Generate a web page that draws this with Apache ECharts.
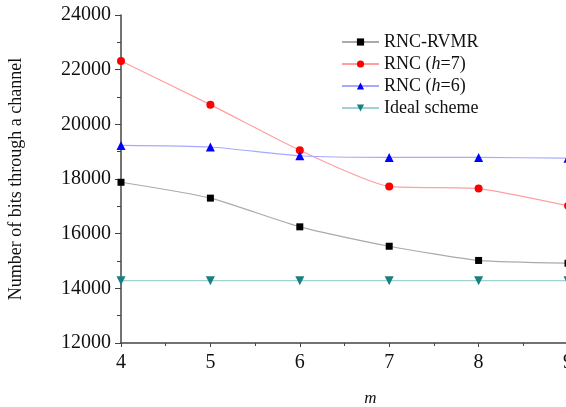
<!DOCTYPE html>
<html>
<head>
<meta charset="utf-8">
<script src="https://cdn.jsdelivr.net/npm/echarts@6/dist/echarts.min.js"></script>
<style>html,body{margin:0;padding:0;background:#fff;}#c{width:566px;height:407px;}</style>
</head>
<body>
<div id="c"></div>
<script>
const mValues = [4, 5, 6, 7, 8, 9];
const rncRvmr = [17880, 17300, 16250, 15540, 15020, 14920];
const rncH7 = [22320, 20720, 19050, 17730, 17650, 17020];
const rncH6 = [19230, 19170, 18850, 18790, 18790, 18760];
const ideal = [14280, 14280, 14280, 14280, 14280, 14280];
const seriesNames = ['RNC-RVMR', 'RNC (h=7)', 'RNC (h=6)', 'Ideal scheme'];
const yTicks = [12000, 14000, 16000, 18000, 20000, 22000, 24000];

const FONT = "'Liberation Serif', 'Times New Roman', serif";
function pairs(ys) { return mValues.map((x, i) => [x, ys[i]]); }

const chart = echarts.init(document.getElementById('c'), null, {renderer: 'canvas'});
const axisLine = {show: true, lineStyle: {color: '#444', width: 1.5}};
chart.setOption({
  animation: false,
  backgroundColor: '#fff',
  grid: {left: 121, top: 15, bottom: 64, right: -2, containLabel: false, outerBoundsMode: 'none'},
  legend: {
    left: 336, top: 28, orient: 'vertical',
    itemWidth: 37, itemHeight: 9, itemGap: 4,
    data: seriesNames,
    formatter: function (n) {
      if (n === 'RNC (h=7)') return 'RNC ({i|h}=7)';
      if (n === 'RNC (h=6)') return 'RNC ({i|h}=6)';
      return n;
    },
    textStyle: {fontFamily: FONT, fontSize: 18, color: '#111',
      rich: {i: {fontFamily: FONT, fontSize: 18, fontStyle: 'italic', color: '#111'}}}
  },
  xAxis: {
    type: 'value', min: 4, max: 9, interval: 1,
    name: 'm', nameLocation: 'middle', nameGap: 47,
    nameTextStyle: {fontFamily: FONT, fontSize: 17, fontStyle: 'italic', color: '#111', padding: [0, 0, 0, 52]},
    axisLine: axisLine,
    axisTick: {show: true, inside: false, length: 4, lineStyle: {color: '#444'}},
    minorTick: {show: true, splitNumber: 2, length: 3, lineStyle: {color: '#444'}},
    splitLine: {show: false},
    axisLabel: {fontFamily: FONT, fontSize: 20, color: '#111', margin: 10,
      formatter: function (v) { return String(v); }}
  },
  yAxis: {
    type: 'value', min: yTicks[0], max: yTicks[yTicks.length - 1], interval: 2000,
    name: 'Number of bits through a channel', nameLocation: 'middle', nameGap: 96,
    nameTextStyle: {fontFamily: FONT, fontSize: 18, color: '#111'},
    axisLine: axisLine,
    axisTick: {show: true, inside: false, length: 6, lineStyle: {color: '#444'}},
    minorTick: {show: true, splitNumber: 2, length: 4, lineStyle: {color: '#444'}},
    splitLine: {show: false},
    axisLabel: {fontFamily: FONT, fontSize: 20, color: '#111', margin: 10,
      formatter: function (v) { return String(v); }}
  },
  series: [
    {name: seriesNames[0], type: 'line', data: pairs(rncRvmr), smooth: 0.2,
     symbol: 'rect', symbolSize: 7, itemStyle: {color: '#000'},
     lineStyle: {color: '#aaaaaa', width: 1.2}},
    {name: seriesNames[1], type: 'line', data: pairs(rncH7), smooth: 0.2,
     symbol: 'circle', symbolSize: 8, itemStyle: {color: '#ff0000'},
     lineStyle: {color: '#ff9f9f', width: 1.2}},
    {name: seriesNames[2], type: 'line', data: pairs(rncH6), smooth: 0.2,
     symbol: 'triangle', symbolSize: 9, itemStyle: {color: '#0000ff'},
     lineStyle: {color: '#a8a8ff', width: 1.2}},
    {name: seriesNames[3], type: 'line', data: pairs(ideal), smooth: 0.2,
     symbol: 'triangle', symbolRotate: 180, symbolSize: 9, itemStyle: {color: '#1a7f7f'},
     lineStyle: {color: '#9fd3d3', width: 1.2}}
  ]
});
</script>
</body>
</html>
